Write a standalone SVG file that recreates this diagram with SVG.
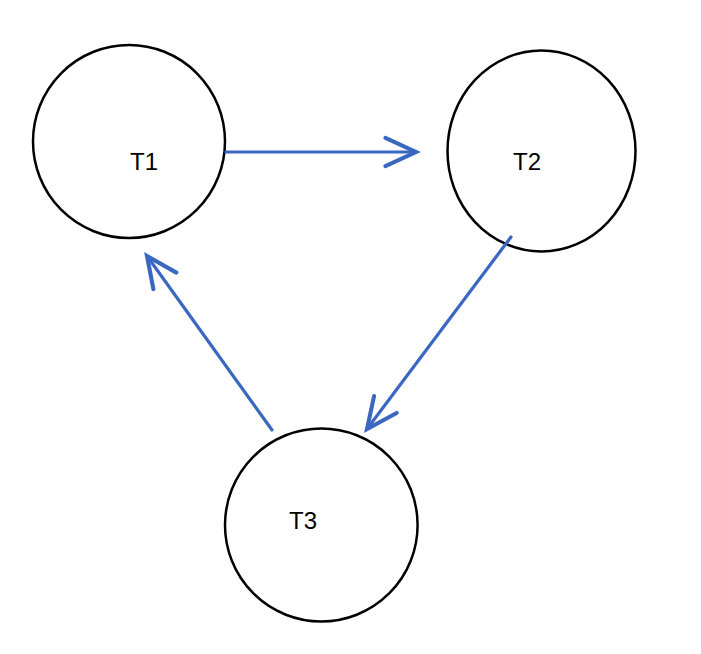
<svg xmlns="http://www.w3.org/2000/svg" width="701" height="654" viewBox="0 0 701 654">
  <style>
    .node ellipse { fill: #ffffff; stroke: #000000; stroke-width: 2.5; }
    .node text { font-family: "Liberation Sans", Arial, sans-serif; font-size: 24px; fill: #000000; }
    .edge { fill: none; stroke: #3a68c0; stroke-width: 3.2; stroke-linecap: round; marker-end: url(#open-arrow); }
  </style>
  <defs>
    <marker id="open-arrow" markerUnits="userSpaceOnUse" markerWidth="40" markerHeight="40" viewBox="-30 -15 34 30" refX="0" refY="0" orient="auto">
      <path d="M-26,-12 L0,0 L-26,12" fill="none" stroke="#3a68c0" stroke-width="3.5" stroke-linecap="round" stroke-linejoin="miter"/>
    </marker>
  </defs>
  <rect width="701" height="654" fill="#ffffff"/>

  <g id="T1" class="node">
    <ellipse cx="129" cy="141.5" rx="96" ry="96.5"/>
    <text x="130" y="170">T1</text>
  </g>
  <g id="T2" class="node">
    <ellipse cx="541.5" cy="151" rx="94" ry="100.5"/>
    <text x="513" y="170">T2</text>
  </g>
  <g id="T3" class="node">
    <ellipse cx="321.3" cy="525" rx="96.3" ry="96.5"/>
    <text x="289" y="529">T3</text>
  </g>

  <!-- connectors are drawn over the nodes -->
  <g id="edges">
    <line class="edge" x1="226" y1="152" x2="416" y2="152"/>
    <line class="edge" x1="511" y1="237" x2="367" y2="429"/>
    <line class="edge" x1="272" y1="430" x2="147" y2="256"/>
  </g>
</svg>
